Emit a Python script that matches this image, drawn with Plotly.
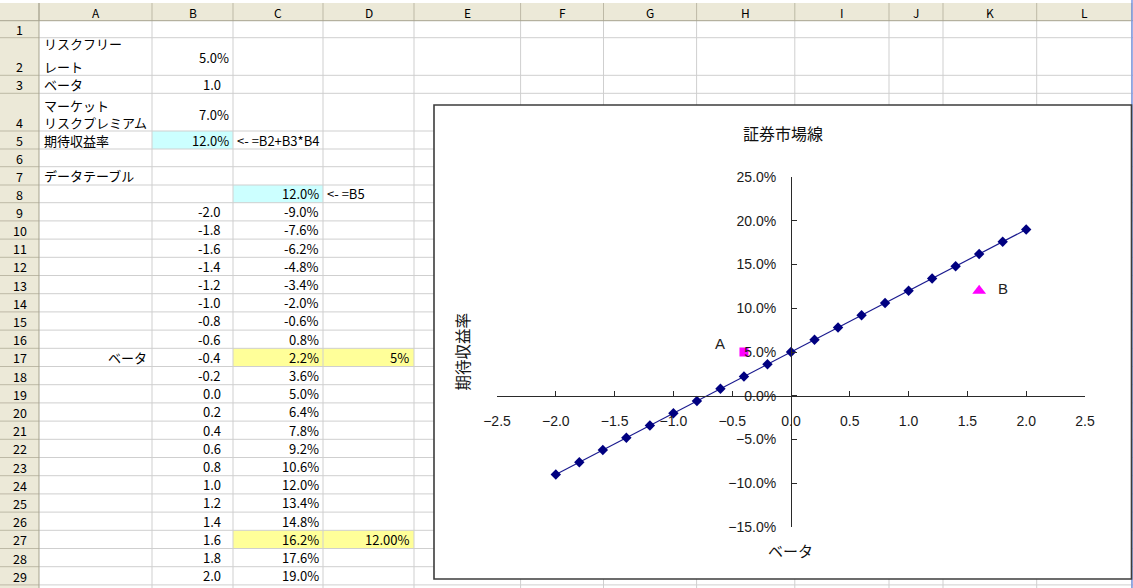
import plotly.graph_objects as go

W, H = 1133, 588

# ---------------- worksheet data ----------------
col_names = ["A", "B", "C", "D", "E", "F", "G", "H", "I", "J", "K", "L"]
row_count = 29

input_labels = ["リスクフリー", "レート", "ベータ", "マーケット", "リスクプレミアム", "期待収益率"]
risk_free = 5.0          # %
beta_input = 1.0
market_premium = 7.0     # %
expected_return = 12.0   # %  (=B2+B3*B4)
formula_b5 = "<- =B2+B3*B4"
table_title = "データテーブル"
formula_c8 = "<- =B5"
beta_label = "ベータ"

betas = [-2.0, -1.8, -1.6, -1.4, -1.2, -1.0, -0.8, -0.6, -0.4, -0.2, 0.0,
         0.2, 0.4, 0.6, 0.8, 1.0, 1.2, 1.4, 1.6, 1.8, 2.0]
returns = [-9.0, -7.6, -6.2, -4.8, -3.4, -2.0, -0.6, 0.8, 2.2, 3.6, 5.0,
           6.4, 7.8, 9.2, 10.6, 12.0, 13.4, 14.8, 16.2, 17.6, 19.0]

# two securities plotted against the line
sec_names = ["A", "B"]
sec_betas = [-0.4, 1.6]
sec_returns = [5.0, 12.0]
sec_text = ["5%", "12.00%"]

chart_title = "証券市場線"
x_title = "ベータ"
y_title = "期待収益率"

# ---------------- sheet geometry (pixels) ----------------
col_edges = [39, 152, 233, 323, 414, 520.6, 603.5, 696.6, 794.8, 889, 943, 1036.7, 1131.5]
head_top, head_bot = 3, 20.7
row_edges = [head_bot, 37.7, 75.3, 93.3, 131, 149, 166.7, 185, 202.7]
while len(row_edges) < row_count + 2:
    row_edges.append(row_edges[-1] + 18.2)

SHEET_FONT = "Noto Sans CJK JP"
SHEET_SIZE = 13
GRID = "#CFCFCF"
HEAD_BG = "#ECE9D8"
HEAD_LINE = "#BDB9A6"
CYAN = "#CCFFFF"
YELLOW = "#FFFF99"


def px(x):
    return x / W


def py(y):
    return 1 - y / H


shapes = []
annotations = []


def rect(x0, y0, x1, y1, fill, line_color=None, line_width=0):
    shapes.append(dict(type="rect", xref="paper", yref="paper", layer="below",
                       x0=px(x0), x1=px(x1), y0=py(y0), y1=py(y1),
                       fillcolor=fill,
                       line=dict(color=line_color or fill, width=line_width)))


def line(x0, y0, x1, y1, color, width=1):
    shapes.append(dict(type="line", xref="paper", yref="paper", layer="below",
                       x0=px(x0), x1=px(x1), y0=py(y0), y1=py(y1),
                       line=dict(color=color, width=width)))


def text(x, y, s, anchor="left", size=SHEET_SIZE, font=SHEET_FONT, color="#000000", angle=0):
    annotations.append(dict(xref="paper", yref="paper", x=px(x), y=py(y), text=s,
                            showarrow=False, xanchor=anchor, yanchor="middle",
                            textangle=angle,
                            font=dict(family=font, size=size, color=color)))


def row_top(r):
    return row_edges[r - 1]


def row_bot(r):
    return row_edges[r]


def row_mid(r):
    return (row_top(r) + row_bot(r)) / 2


def col_left(c):
    return col_edges[col_names.index(c)]


def col_right(c):
    return col_edges[col_names.index(c) + 1]


# cell fills
rect(col_left("B"), row_top(5), col_right("B"), row_bot(5), CYAN)
rect(col_left("C"), row_top(8), col_right("C"), row_bot(8), CYAN)
for r in (17, 27):
    rect(col_left("C"), row_top(r), col_right("D"), row_bot(r), YELLOW)

# grid lines
for x in col_edges[1:]:
    line(x, head_bot, x, H, GRID)
for y in row_edges[1:]:
    line(col_edges[0], y, W, y, GRID)

# headers
rect(0, head_top, W, head_bot, HEAD_BG)
rect(0, head_top, col_edges[0], H, HEAD_BG)
for x in col_edges:
    line(x, head_top, x, head_bot, HEAD_LINE)
for y in row_edges[1:]:
    line(0, y, col_edges[0], y, HEAD_LINE)
line(0, head_bot, W, head_bot, "#A7A38F")
line(col_edges[0], head_top, col_edges[0], H, "#A7A38F")
line(W - 1, 0, W - 1, H, "#7A96DF", 1.5)

for i, c in enumerate(col_names):
    text((col_edges[i] + col_edges[i + 1]) / 2, (head_top + head_bot) / 2 + 1, c, "center", 12)
for r in range(1, row_count + 1):
    text(col_edges[0] / 2, row_bot(r) - 8.5, str(r), "center", 12.5)

# input block
AX = col_left("A") + 2.5
text(AX, 43.5, input_labels[0])
text(AX, 66.5, input_labels[1])
text(AX, row_mid(3), input_labels[2])
text(AX, 105, input_labels[3])
text(AX, 123, input_labels[4])
text(AX, row_mid(5), input_labels[5])

BR = col_right("B") - 2.5
text(BR, 57.5, f"{risk_free:.1f}%", "right")
text(BR - 7.5, row_mid(3), f"{beta_input:.1f}", "right")
text(BR, 114.5, f"{market_premium:.1f}%", "right")
text(BR, row_mid(5), f"{expected_return:.1f}%", "right")
text(col_left("C") + 2, row_mid(5), formula_b5)

text(AX, row_mid(7), table_title)
CR = col_right("C") - 2.5
text(CR, row_mid(8), f"{expected_return:.1f}%", "right")
text(col_left("D") + 2, row_mid(8), formula_c8)

# data table
for i, (b, r) in enumerate(zip(betas, returns)):
    row = 9 + i
    text(BR - 7.5, row_mid(row), f"{b:.1f}", "right")
    text(CR, row_mid(row), f"{r:.1f}%", "right")

sec_rows = [9 + betas.index(b) for b in sec_betas]
text(col_right("A") - 3.5, row_mid(sec_rows[0]), beta_label, "right")
for row, s in zip(sec_rows, sec_text):
    text(col_right("D") - 3, row_mid(row), s, "right")

# ---------------- embedded chart ----------------
box = (434, 105, 1131.5, 579)
rect(*box, "#FFFFFF", "#3C3C3C", 1.6)

CHART_FONT = "Liberation Sans"
px_x0, px_x1 = 497, 1085        # x: -2.5 .. 2.5
px_y0, px_y1 = 177, 527         # y: 25% .. -15%
x_range = [-2.5, 2.5]
y_range = [-15, 25]
y_zero_px = px_y1 - (0 - y_range[0]) / (y_range[1] - y_range[0]) * (px_y1 - px_y0)
x_zero_px = px_x0 + (0 - x_range[0]) / (x_range[1] - x_range[0]) * (px_x1 - px_x0)

fig = go.Figure()
fig.add_trace(go.Scatter(
    x=betas, y=returns, mode="lines+markers",
    line=dict(color="#1B1B8F", width=1.2),
    marker=dict(symbol="diamond", size=8, color="#000080"),
    hoverinfo="skip"))
fig.add_trace(go.Scatter(
    x=[sec_betas[0]], y=[sec_returns[0]], mode="markers",
    marker=dict(symbol="square", size=9, color="#FF00FF"), hoverinfo="skip"))
fig.add_trace(go.Scatter(
    x=[sec_betas[1]], y=[sec_returns[1]], mode="markers",
    marker=dict(symbol="triangle-up", size=12, color="#FF00FF"), hoverinfo="skip"))

for name, bx, ry, dx in zip(sec_names, sec_betas, sec_returns, [-24, 24]):
    annotations.append(dict(xref="x", yref="y", x=bx, y=ry, text=name, showarrow=False,
                            xshift=dx, yshift=9 if name == "A" else 2,
                            font=dict(family=CHART_FONT, size=15, color="#222222")))

text(783.5, 133, chart_title, "center", 16, SHEET_FONT, "#111111")
text(790, 550, x_title, "center", 15, SHEET_FONT, "#111111")
text(461, 351.5, y_title, "center", 15.5, SHEET_FONT, "#111111", angle=-90)

axis_common = dict(showgrid=False, zeroline=False, showline=True, linecolor="#2A2A2A",
                   linewidth=1, ticks="inside", ticklen=5, tickcolor="#2A2A2A",
                   tickfont=dict(family=CHART_FONT, size=14, color="#1A1A1A"),
                   anchor="free", fixedrange=True, automargin=False)

fig.update_layout(
    width=W, height=H, autosize=False,
    margin=dict(l=0, r=0, t=0, b=0, pad=0, autoexpand=False),
    paper_bgcolor="#FFFFFF",
    plot_bgcolor="rgba(0,0,0,0)",
    showlegend=False,
    shapes=shapes,
    annotations=annotations,
    xaxis=dict(domain=[px(px_x0), px(px_x1)], range=x_range, dtick=0.5,
               tickformat=".1f", position=py(y_zero_px), ticklabelstandoff=12,
               **axis_common),
    yaxis=dict(domain=[py(px_y1), py(px_y0)], range=y_range, dtick=5,
               tickformat=".1f", ticksuffix="%", position=px(x_zero_px),
               ticklabelstandoff=12, **axis_common),
)

fig.write_html("out.html", config={"displayModeBar": False})
